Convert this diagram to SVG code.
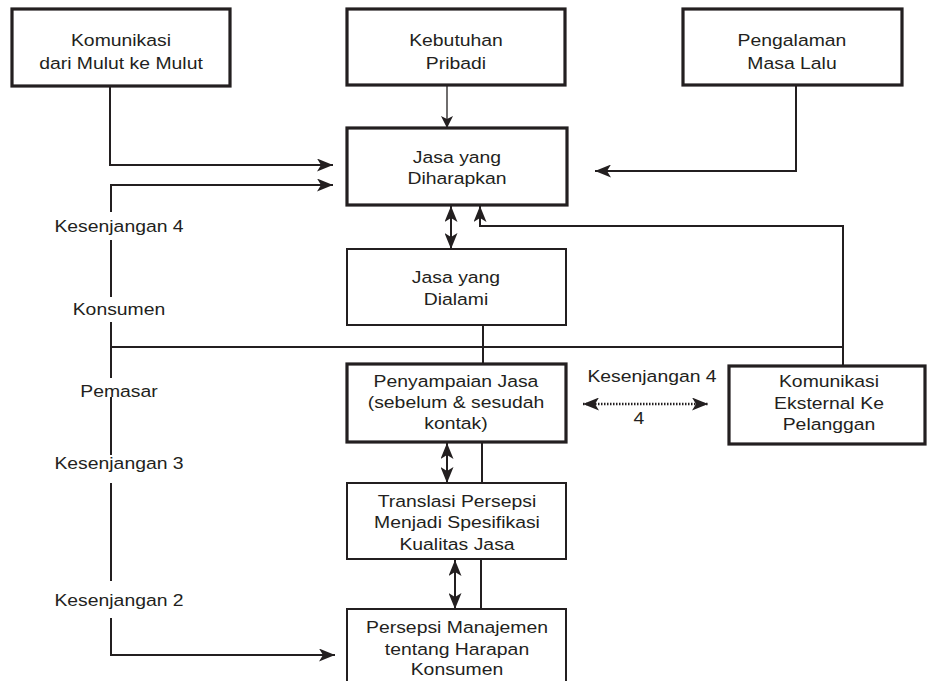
<svg xmlns="http://www.w3.org/2000/svg" width="936" height="681" viewBox="0 0 936 681">
<style>
.bx{fill:#fff;stroke:#231f20;stroke-width:3.2}
.bt{fill:#fff;stroke:#231f20;stroke-width:2}
.ln{fill:none;stroke:#231f20;stroke-width:2}
.lt{fill:none;stroke:#231f20;stroke-width:1.3}
.dt{fill:none;stroke:#231f20;stroke-width:2.5;stroke-dasharray:1.5 1.5}
text{font-family:"Liberation Sans",Arial,sans-serif;font-size:17px;fill:#231f20;text-anchor:middle}
</style>
<defs>
<marker id="ah" viewBox="0 0 16 13" refX="16" refY="6.5" markerWidth="16" markerHeight="13" markerUnits="userSpaceOnUse" orient="auto-start-reverse">
<path d="M0,0 L16,6.5 L0,13 L4,6.5 z" fill="#231f20"/>
</marker>
<marker id="ahs" viewBox="0 0 12 12" refX="12" refY="6" markerWidth="12" markerHeight="12" markerUnits="userSpaceOnUse" orient="auto-start-reverse">
<path d="M0,0 L12,6 L0,12 L3,6 z" fill="#231f20"/>
</marker>
</defs>

<g id="connectors">
<path class="ln" d="M110,86 V165 H333" marker-end="url(#ah)"/>
<path class="ln" d="M111,212 V185 H333" marker-end="url(#ah)"/>
<path class="lt" d="M447,85 V128" marker-end="url(#ahs)"/>
<path class="ln" d="M796,85 V171 H595" marker-end="url(#ah)"/>
<path class="ln" d="M451,206 V249" marker-start="url(#ah)" marker-end="url(#ah)"/>
<path class="ln" d="M843,366 V226 H480 V206" marker-end="url(#ah)"/>
<path class="ln" d="M111,347 H843"/>
<path class="ln" d="M483,325 V364"/>
<path class="ln" d="M447,443 V483" marker-start="url(#ah)" marker-end="url(#ah)"/>
<path class="ln" d="M482,442 V483"/>
<path class="ln" d="M455,560 V609" marker-start="url(#ah)" marker-end="url(#ah)"/>
<path class="ln" d="M481,559 V609"/>
<path class="dt" d="M583,404 H708" marker-start="url(#ah)" marker-end="url(#ah)"/>
<path class="ln" d="M111,240 V297"/>
<path class="ln" d="M111,322 V378"/>
<path class="ln" d="M111,397 V455"/>
<path class="ln" d="M111,483 V581"/>
<path class="ln" d="M111,618 V655 H335" marker-end="url(#ah)"/>
</g>

<g id="n-mulut">
<rect class="bx" x="12" y="9" width="218" height="77"/>
<text transform="translate(121 46) scale(1.14 1)"><tspan x="0" y="0">Komunikasi</tspan><tspan x="0" y="23">dari Mulut ke Mulut</tspan></text>
</g>
<g id="n-kebutuhan">
<rect class="bx" x="347" y="9" width="218" height="76"/>
<text transform="translate(456 46) scale(1.14 1)"><tspan x="0" y="0">Kebutuhan</tspan><tspan x="0" y="23">Pribadi</tspan></text>
</g>
<g id="n-pengalaman">
<rect class="bx" x="683" y="9" width="219" height="76"/>
<text transform="translate(792 46) scale(1.14 1)"><tspan x="0" y="0">Pengalaman</tspan><tspan x="0" y="23">Masa Lalu</tspan></text>
</g>
<g id="n-diharapkan">
<rect class="bx" x="347" y="128" width="220" height="77"/>
<text transform="translate(457 163) scale(1.14 1)"><tspan x="0" y="0">Jasa yang</tspan><tspan x="0" y="21">Diharapkan</tspan></text>
</g>
<g id="n-dialami">
<rect class="bt" x="347" y="249" width="219" height="76"/>
<text transform="translate(456 283) scale(1.14 1)"><tspan x="0" y="0">Jasa yang</tspan><tspan x="0" y="22">Dialami</tspan></text>
</g>
<g id="n-penyampaian">
<rect class="bx" x="347" y="364" width="219" height="78"/>
<text transform="translate(456 387) scale(1.14 1)"><tspan x="0" y="0">Penyampaian Jasa</tspan><tspan x="0" y="21">(sebelum &amp; sesudah</tspan><tspan x="0" y="42">kontak)</tspan></text>
</g>
<g id="n-eksternal">
<rect class="bx" x="729" y="366" width="196" height="78"/>
<text transform="translate(829 387) scale(1.14 1)"><tspan x="0" y="0">Komunikasi</tspan><tspan x="0" y="22">Eksternal Ke</tspan><tspan x="0" y="43">Pelanggan</tspan></text>
</g>
<g id="n-translasi">
<rect class="bt" x="347" y="483" width="219" height="76"/>
<text transform="translate(457 507) scale(1.14 1)"><tspan x="0" y="0">Translasi Persepsi</tspan><tspan x="0" y="21">Menjadi Spesifikasi</tspan><tspan x="0" y="43">Kualitas Jasa</tspan></text>
</g>
<g id="n-persepsi">
<rect class="bt" x="347" y="609" width="219" height="90"/>
<text transform="translate(457 633) scale(1.14 1)"><tspan x="0" y="0">Persepsi Manajemen</tspan><tspan x="0" y="22">tentang Harapan</tspan><tspan x="0" y="42">Konsumen</tspan></text>
</g>

<g id="labels">
<text transform="translate(119 232) scale(1.14 1)">Kesenjangan 4</text>
<text transform="translate(119 315) scale(1.14 1)">Konsumen</text>
<text transform="translate(119 397) scale(1.14 1)">Pemasar</text>
<text transform="translate(119 469) scale(1.14 1)">Kesenjangan 3</text>
<text transform="translate(119 606) scale(1.14 1)">Kesenjangan 2</text>
<text transform="translate(652 382) scale(1.14 1)">Kesenjangan 4</text>
<text transform="translate(639 424) scale(1.14 1)">4</text>
</g>
</svg>
